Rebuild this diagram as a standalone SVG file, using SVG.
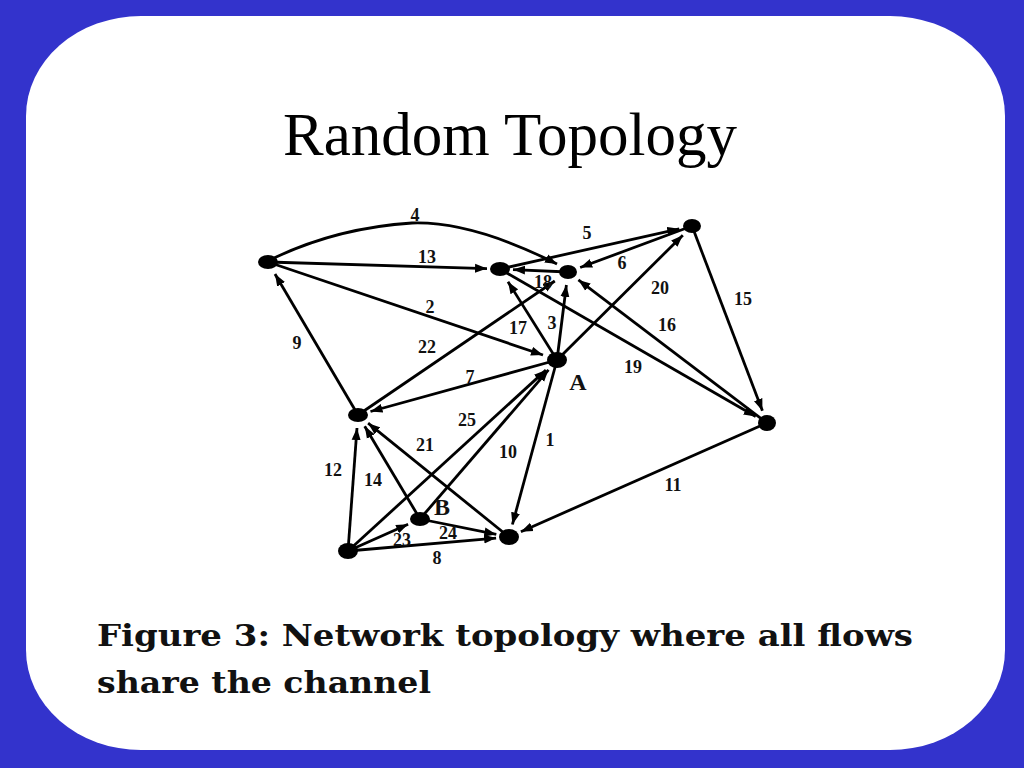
<svg xmlns="http://www.w3.org/2000/svg" width="1024" height="768" viewBox="0 0 1024 768">
<defs>
<style>
.e{fill:none;stroke:#000;stroke-width:2.8;marker-end:url(#ah)}
.n{fill:#000}
.l{font-family:"Liberation Serif","Times New Roman",serif;font-size:18px;font-weight:bold;fill:#111;text-anchor:middle}
.big{font-family:"Liberation Serif","Times New Roman",serif;font-size:24px;font-weight:bold;fill:#111;text-anchor:middle}
.cap{font-family:"DejaVu Serif","Liberation Serif",serif;font-size:29px;font-weight:bold;fill:#111}
</style>
<marker id="ah" markerUnits="userSpaceOnUse" markerWidth="13" markerHeight="10" refX="12" refY="5" orient="auto">
<path d="M0,0.5 L12,5 L0,9.5 Z" fill="#000"/>
</marker>
</defs>
<rect x="0" y="0" width="1024" height="768" fill="#3333CC"/>
<rect x="26" y="16" width="979" height="734" rx="115" ry="100" fill="#fff"/>
<text x="510" y="155" font-family="Liberation Serif,'Times New Roman',serif" font-size="61" text-anchor="middle" fill="#000">Random Topology</text>
<g id="connectors">
<path class="e" d="M268,262 L487,268.6"/>
<path class="e" d="M268,262 L543,355"/>
<path class="e" d="M270,260 Q335,228 412,223 Q472,221 557,264"/>
<path class="e" d="M358,415 L275,274"/>
<path class="e" d="M500,269 L679.3,228.8"/>
<path class="e" d="M692,226 L580.2,267.5"/>
<path class="e" d="M568,272 L513,269.6"/>
<path class="e" d="M557,360 L508,281.7"/>
<path class="e" d="M557,360 L566.4,285"/>
<path class="e" d="M358,415 L554.8,281"/>
<path class="e" d="M557,360 L682.8,235.2"/>
<path class="e" d="M767,423 L578.4,279.9"/>
<path class="e" d="M500,269 L755.7,416.5"/>
<path class="e" d="M692,226 L762.4,410.8"/>
<path class="e" d="M557,360 L370.5,411.5"/>
<path class="e" d="M348,551 L545.9,370.1"/>
<path class="e" d="M420,519 L548.5,369.8"/>
<path class="e" d="M509,537 L368.1,423.2"/>
<path class="e" d="M420,519 L364.7,426.2"/>
<path class="e" d="M348,551 L357,428"/>
<path class="e" d="M557,360 L512.4,524.5"/>
<path class="e" d="M767,423 L520.9,531.7"/>
<path class="e" d="M420,519 L496.3,534.4"/>
<path class="e" d="M348,551 L408.1,524.3"/>
<path class="e" d="M348,551 L496.1,538.1"/>
</g>
<g id="edge-labels">
<text class="l" x="415" y="221">4</text>
<text class="l" x="427" y="263">13</text>
<text class="l" x="430" y="313">2</text>
<text class="l" x="297" y="349">9</text>
<text class="l" x="427" y="353">22</text>
<text class="l" x="518" y="334">17</text>
<text class="l" x="552" y="329">3</text>
<text class="l" x="470" y="383">7</text>
<text class="l" x="543" y="288">18</text>
<text class="l" x="587" y="239">5</text>
<text class="l" x="622" y="269">6</text>
<text class="l" x="660" y="294">20</text>
<text class="l" x="743" y="305">15</text>
<text class="l" x="667" y="331">16</text>
<text class="l" x="633" y="373">19</text>
<text class="l" x="467" y="426">25</text>
<text class="l" x="425" y="451">21</text>
<text class="l" x="508" y="458">10</text>
<text class="l" x="550" y="446">1</text>
<text class="l" x="333" y="476">12</text>
<text class="l" x="373" y="486">14</text>
<text class="l" x="673" y="491">11</text>
<text class="l" x="448" y="539">24</text>
<text class="l" x="402" y="546">23</text>
<text class="l" x="437" y="564">8</text>
</g>
<g id="node-1"><ellipse class="n" cx="268" cy="262" rx="10" ry="7"/></g>
<g id="node-2"><ellipse class="n" cx="500" cy="269" rx="10" ry="7"/></g>
<g id="node-3"><ellipse class="n" cx="568" cy="272" rx="9" ry="7"/></g>
<g id="node-4"><ellipse class="n" cx="692" cy="226" rx="9" ry="7"/></g>
<g id="node-A"><ellipse class="n" cx="557" cy="360" rx="10" ry="8"/><text class="big" x="578" y="390">A</text></g>
<g id="node-6"><ellipse class="n" cx="358" cy="415" rx="10" ry="7"/></g>
<g id="node-7"><ellipse class="n" cx="767" cy="423" rx="9" ry="8"/></g>
<g id="node-B"><ellipse class="n" cx="420" cy="519" rx="10" ry="7"/><text class="big" x="442" y="515">B</text></g>
<g id="node-9"><ellipse class="n" cx="348" cy="551" rx="10" ry="8"/></g>
<g id="node-10"><ellipse class="n" cx="509" cy="537" rx="10" ry="8"/></g>
<text class="cap" x="97" y="646" textLength="816" lengthAdjust="spacingAndGlyphs">Figure 3:  Network topology where all flows</text>
<text class="cap" x="97" y="693" textLength="334" lengthAdjust="spacingAndGlyphs">share the channel</text>
</svg>
